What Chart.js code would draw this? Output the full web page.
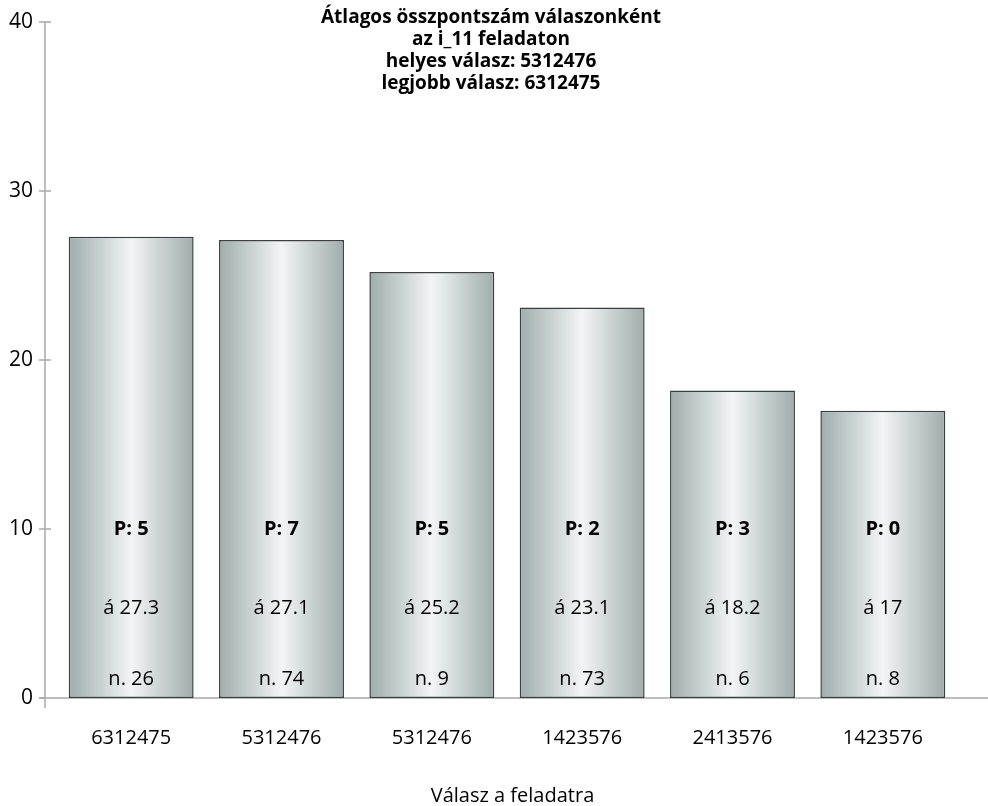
<!DOCTYPE html>
<html>
<head>
<meta charset="utf-8">
<script src="https://cdn.jsdelivr.net/npm/chart.js@4.4.0/dist/chart.umd.min.js"></script>
<style>
  html, body { margin: 0; padding: 0; background: #fff; }
  #wrap { width: 988px; height: 806px; }
</style>
</head>
<body>
<div id="wrap"><canvas id="c" width="988" height="806"></canvas></div>
<script>
// Answers given to task i_11 and the mean total score of students per answer
const answers = ['6312475', '5312476', '5312476', '1423576', '2413576', '1423576'];
const meanScores = [27.3, 27.1, 25.2, 23.1, 18.2, 17];
const pointsPerAnswer = [5, 7, 5, 2, 3, 0];
const studentCounts = [26, 74, 9, 73, 6, 8];
const yTicks = [0, 10, 20, 30, 40];
const titleLines = [
  'Átlagos összpontszám válaszonként',
  'az i_11 feladaton',
  'helyes válasz: 5312476',
  'legjobb válasz: 6312475'
];
const xAxisTitle = 'Válasz a feladatra';

const FONT = '"Open Sans", "Noto Sans", sans-serif';
const BAR_PCT = 0.831;

// horizontal metallic gradient across each bar
function barGradient(ctx) {
  const chart = ctx.chart;
  const xs = chart.scales && chart.scales.x;
  if (!xs || typeof ctx.dataIndex !== 'number') return '#c8d0cf';
  const cx = xs.getPixelForValue(ctx.dataIndex);
  const half = (xs.width / answers.length) * BAR_PCT / 2;
  if (!isFinite(cx) || !isFinite(half) || half <= 0) return '#c8d0cf';
  const g = chart.ctx.createLinearGradient(cx - half, 0, cx + half, 0);
  g.addColorStop(0, '#9fadab');
  g.addColorStop(0.25, '#c8d1d0');
  g.addColorStop(0.5, '#f3f5f5');
  g.addColorStop(0.75, '#c8d1d0');
  g.addColorStop(1, '#9fadab');
  return g;
}

const decor = {
  id: 'decor',
  beforeDatasetsDraw(chart) {
    const { ctx, scales: { y } } = chart;
    const axisX = 45;
    ctx.save();
    ctx.strokeStyle = '#a8a8a8';
    ctx.lineWidth = 1.5;
    // vertical axis
    ctx.beginPath();
    ctx.moveTo(axisX, y.getPixelForValue(40));
    ctx.lineTo(axisX, y.getPixelForValue(0) + 10);
    ctx.stroke();
    // tick marks
    yTicks.forEach(v => {
      const py = y.getPixelForValue(v);
      ctx.beginPath();
      ctx.moveTo(axisX - 6, py);
      ctx.lineTo(v === 0 ? axisX : axisX + 6, py);
      ctx.stroke();
    });
    // horizontal axis
    const py0 = y.getPixelForValue(0);
    ctx.beginPath();
    ctx.moveTo(axisX - 6, py0);
    ctx.lineTo(chart.width, py0);
    ctx.stroke();
    ctx.restore();
  },
  afterDatasetsDraw(chart) {
    const { ctx, scales: { x, y } } = chart;
    const y0 = y.getPixelForValue(0);
    ctx.save();
    ctx.fillStyle = '#000';
    ctx.textAlign = 'center';
    ctx.textBaseline = 'middle';
    answers.forEach((a, i) => {
      const cx = x.getPixelForValue(i);
      ctx.font = 'bold 20px ' + FONT;
      ctx.fillText('P: ' + pointsPerAnswer[i], cx, y0 - 169);
      ctx.font = '20px ' + FONT;
      ctx.fillText('á ' + meanScores[i], cx, y0 - 90);
      ctx.fillText('n. ' + studentCounts[i], cx, y0 - 19);
    });
    // chart title
    ctx.font = 'bold 19px ' + FONT;
    titleLines.forEach((t, i) => ctx.fillText(t, chart.width / 2 - 3, 18 + i * 22));
    // axis title
    ctx.font = '20px ' + FONT;
    ctx.fillText(xAxisTitle, (45 + chart.width) / 2 - 4, 796);
    ctx.restore();
  }
};

new Chart(document.getElementById('c'), {
  type: 'bar',
  data: {
    labels: answers,
    datasets: [{
      data: meanScores,
      backgroundColor: barGradient,
      borderColor: '#3a3f3f',
      borderWidth: 1.5,
      borderSkipped: false,
      categoryPercentage: 1,
      barPercentage: BAR_PCT
    }]
  },
  options: {
    responsive: false,
    animation: false,
    layout: { padding: { left: 0, right: 30, top: 22, bottom: 0 } },
    plugins: { legend: { display: false }, title: { display: false }, tooltip: { enabled: false } },
    scales: {
      x: {
        grid: { display: false, drawTicks: false, tickLength: 0 },
        border: { display: false },
        ticks: { color: '#000', font: { family: FONT, size: 20 }, padding: 28, maxRotation: 0 },
        afterFit(s) { s.height = 108; s.paddingLeft = 0; s.paddingRight = 0; }
      },
      y: {
        min: 0, max: 40,
        afterBuildTicks(s) { s.ticks = yTicks.map(v => ({ value: v })); },
        grid: { display: false, drawTicks: false, tickLength: 0 },
        border: { display: false },
        ticks: { color: '#000', font: { family: FONT, size: 21 }, padding: 23 },
        afterFit(s) { s.width = 56; s.paddingTop = 0; s.paddingBottom = 0; }
      }
    }
  },
  plugins: [decor]
});
</script>
</body>
</html>
